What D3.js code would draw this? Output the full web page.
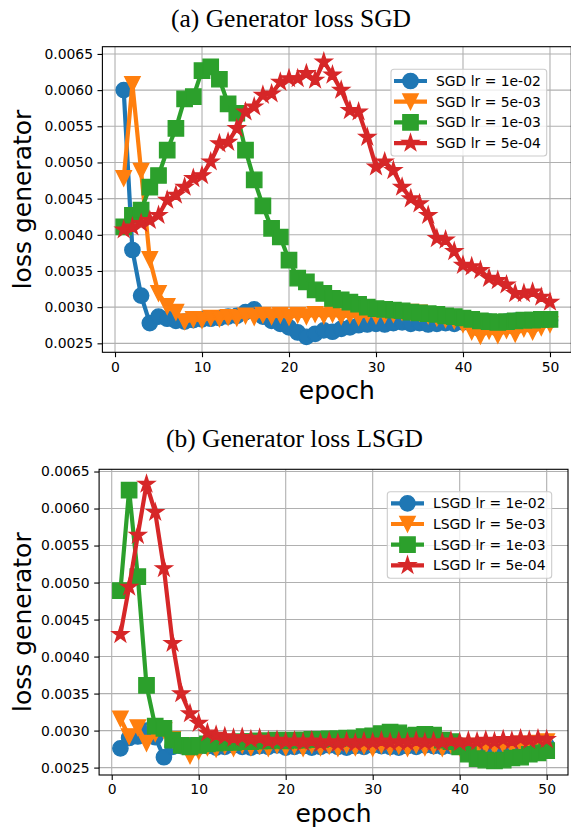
<!DOCTYPE html>
<html>
<head>
<meta charset="utf-8">
<script src="https://cdn.jsdelivr.net/npm/d3@7"></script>
<style>
  html, body { margin: 0; padding: 0; background: #fff; }
  svg { display: block; }
</style>
</head>
<body>
<div id="chart"></div>
<script>
// Data
const epochs = d3.range(1, 51)
const xTicks = [0, 10, 20, 30, 40, 50]
const yTicks = [0.0025, 0.0030, 0.0035, 0.0040, 0.0045, 0.0050, 0.0055, 0.0060, 0.0065]

const sgdLabels = ['SGD lr = 1e-02', 'SGD lr = 5e-03', 'SGD lr = 1e-03', 'SGD lr = 5e-04']
const lsgdLabels = ['LSGD lr = 1e-02', 'LSGD lr = 5e-03', 'LSGD lr = 1e-03', 'LSGD lr = 5e-04']

const sgd1e2 = [0.00600, 0.00379, 0.00316, 0.00278, 0.00287, 0.00284, 0.00281, 0.00280, 0.00282, 0.00283,
  0.00284, 0.00285, 0.00287, 0.00288, 0.00293, 0.00297, 0.00287, 0.00281, 0.00277, 0.00272,
  0.00265, 0.00259, 0.00263, 0.00268, 0.00266, 0.00270, 0.00272, 0.00275, 0.00276, 0.00277,
  0.00276, 0.00278, 0.00279, 0.00277, 0.00278, 0.00276, 0.00277, 0.00278, 0.00277, 0.00279,
  0.00278, 0.00279, 0.00280, 0.00279, 0.00280, 0.00281, 0.00280, 0.00281, 0.00282, 0.00282]
const sgd5e3 = [0.00478, 0.00608, 0.00488, 0.00366, 0.00319, 0.00301, 0.00293, 0.00280, 0.00283, 0.00282,
  0.00285, 0.00284, 0.00286, 0.00285, 0.00288, 0.00286, 0.00289, 0.00287, 0.00289, 0.00286,
  0.00289, 0.00287, 0.00290, 0.00288, 0.00290, 0.00287, 0.00289, 0.00286, 0.00290, 0.00288,
  0.00289, 0.00290, 0.00293, 0.00293, 0.00292, 0.00288, 0.00285, 0.00283, 0.00281, 0.00276,
  0.00266, 0.00260, 0.00267, 0.00261, 0.00268, 0.00263, 0.00270, 0.00266, 0.00272, 0.00276]
const sgd1e3 = [0.00411, 0.00427, 0.00434, 0.00466, 0.00482, 0.00517, 0.00547, 0.00588, 0.00591, 0.00627,
  0.00632, 0.00615, 0.00581, 0.00568, 0.00517, 0.00476, 0.00440, 0.00409, 0.00397, 0.00365,
  0.00340, 0.00335, 0.00324, 0.00319, 0.00312, 0.00310, 0.00307, 0.00304, 0.00300, 0.00298,
  0.00297, 0.00296, 0.00295, 0.00293, 0.00292, 0.00291, 0.00290, 0.00288, 0.00287, 0.00285,
  0.00283, 0.00281, 0.00280, 0.00279, 0.00280, 0.00281, 0.00282, 0.00282, 0.00283, 0.00283]
const sgd5e4 = [0.00407, 0.00411, 0.00416, 0.00420, 0.00427, 0.00448, 0.00455, 0.00466, 0.00478, 0.00482,
  0.00501, 0.00526, 0.00528, 0.00547, 0.00570, 0.00577, 0.00593, 0.00595, 0.00611, 0.00616,
  0.00616, 0.00623, 0.00614, 0.00639, 0.00621, 0.00600, 0.00572, 0.00570, 0.00535, 0.00494,
  0.00501, 0.00489, 0.00466, 0.00450, 0.00443, 0.00427, 0.00395, 0.00393, 0.00377, 0.00358,
  0.00356, 0.00351, 0.00340, 0.00337, 0.00331, 0.00319, 0.00319, 0.00321, 0.00314, 0.00307]

const lsgd1e2 = [0.00276, 0.00290, 0.00292, 0.00300, 0.00291, 0.00264, 0.00278, 0.00279, 0.00280, 0.00278,
  0.00279, 0.00277, 0.00278, 0.00280, 0.00278, 0.00277, 0.00279, 0.00278, 0.00280, 0.00277,
  0.00278, 0.00279, 0.00277, 0.00278, 0.00280, 0.00278, 0.00277, 0.00279, 0.00278, 0.00280,
  0.00279, 0.00278, 0.00277, 0.00279, 0.00278, 0.00280, 0.00279, 0.00278, 0.00279, 0.00280,
  0.00279, 0.00278, 0.00280, 0.00279, 0.00278, 0.00280, 0.00279, 0.00280, 0.00279, 0.00280]
const lsgd5e3 = [0.00316, 0.00292, 0.00304, 0.00283, 0.00296, 0.00300, 0.00288, 0.00280, 0.00266, 0.00272,
  0.00277, 0.00275, 0.00279, 0.00276, 0.00280, 0.00277, 0.00279, 0.00276, 0.00280, 0.00277,
  0.00279, 0.00276, 0.00280, 0.00277, 0.00279, 0.00276, 0.00280, 0.00277, 0.00279, 0.00276,
  0.00280, 0.00277, 0.00279, 0.00276, 0.00280, 0.00277, 0.00279, 0.00276, 0.00280, 0.00277,
  0.00279, 0.00277, 0.00280, 0.00278, 0.00281, 0.00279, 0.00282, 0.00280, 0.00283, 0.00285]
const lsgd1e3 = [0.00489, 0.00625, 0.00508, 0.00361, 0.00306, 0.00303, 0.00287, 0.00280, 0.00278, 0.00280,
  0.00282, 0.00283, 0.00284, 0.00284, 0.00285, 0.00285, 0.00286, 0.00286, 0.00287, 0.00286,
  0.00287, 0.00287, 0.00288, 0.00288, 0.00289, 0.00289, 0.00290, 0.00290, 0.00292, 0.00293,
  0.00296, 0.00298, 0.00297, 0.00293, 0.00294, 0.00295, 0.00294, 0.00287, 0.00285, 0.00278,
  0.00268, 0.00262, 0.00260, 0.00259, 0.00260, 0.00263, 0.00264, 0.00268, 0.00270, 0.00273]
const lsgd5e4 = [0.00430, 0.00494, 0.00564, 0.00633, 0.00595, 0.00519, 0.00418, 0.00350, 0.00323, 0.00310,
  0.00297, 0.00294, 0.00292, 0.00290, 0.00291, 0.00288, 0.00290, 0.00286, 0.00287, 0.00285,
  0.00286, 0.00284, 0.00286, 0.00283, 0.00285, 0.00283, 0.00285, 0.00283, 0.00285, 0.00284,
  0.00286, 0.00284, 0.00285, 0.00284, 0.00286, 0.00284, 0.00285, 0.00284, 0.00286, 0.00284,
  0.00286, 0.00285, 0.00287, 0.00285, 0.00288, 0.00286, 0.00289, 0.00287, 0.00289, 0.00288]

// Styles
const colors = ['#1f77b4', '#ff7f0e', '#2ca02c', '#d62728']
const markers = ['circle', 'triangle', 'square', 'star']
const MS = 15.3
const LW = 4.2
const TICK_FONT = '13.9px'

// Marker shapes (matplotlib-like sizes)
function markerPath (type, s) {
  const h = s / 2
  const p = d3.path()
  if (type === 'circle') {
    p.arc(0, 0, h, 0, 2 * Math.PI)
  } else if (type === 'triangle') {
    p.moveTo(0, h); p.lineTo(-h, -h); p.lineTo(h, -h); p.closePath()
  } else if (type === 'square') {
    p.rect(-h, -h, s, s)
  } else {
    const R = h * 1.12
    const r = R * 0.381966
    for (let i = 0; i < 10; i++) {
      const a = -Math.PI / 2 + i * Math.PI / 5
      const rad = i % 2 === 0 ? R : r
      const x = rad * Math.cos(a)
      const y = rad * Math.sin(a)
      if (i === 0) p.moveTo(x, y); else p.lineTo(x, y)
    }
    p.closePath()
  }
  return p.toString()
}

const svg = d3.select('#chart')
  .append('svg')
  .attr('width', 571)
  .attr('height', 829)

function drawPanel (cfg) {
  const { series, labels, title, left, right, top, bottom, yMin, yMax, legend } = cfg
  const x = d3.scaleLinear().domain([-1.45, 52.45]).range([left, right])
  const y = d3.scaleLinear().domain([yMin, yMax]).range([bottom, top])
  const g = svg.append('g')

  // title
  g.append('text')
    .attr('x', cfg.titleX)
    .attr('y', cfg.titleY)
    .attr('text-anchor', 'middle')
    .style('font-family', '"Liberation Serif", "Times New Roman", serif')
    .style('font-size', '25.5px')
    .text(title)

  // grid
  g.append('g').selectAll('line.gx')
    .data(xTicks)
    .join('line')
    .attr('x1', d => x(d)).attr('x2', d => x(d))
    .attr('y1', top).attr('y2', bottom)
    .attr('stroke', '#b0b0b0').attr('stroke-width', 1.1)
  g.append('g').selectAll('line.gy')
    .data(yTicks)
    .join('line')
    .attr('x1', left).attr('x2', right)
    .attr('y1', d => y(d)).attr('y2', d => y(d))
    .attr('stroke', '#b0b0b0').attr('stroke-width', 1.1)

  // series
  const line = d3.line().x((d, i) => x(epochs[i])).y(d => y(d))
  series.forEach((vals, k) => {
    const sg = g.append('g')
    sg.append('path')
      .attr('d', line(vals))
      .attr('fill', 'none')
      .attr('stroke', colors[k])
      .attr('stroke-width', LW)
      .attr('stroke-linejoin', 'round')
    sg.selectAll('path.m')
      .data(vals)
      .join('path')
      .attr('class', 'm')
      .attr('d', markerPath(markers[k], MS))
      .attr('transform', (d, i) => `translate(${x(epochs[i])},${y(d)})`)
      .attr('fill', colors[k])
      .attr('stroke', colors[k])
      .attr('stroke-width', 1.4)
      .attr('stroke-linejoin', 'miter')
  })

  // axes
  const xAxis = d3.axisBottom(x).tickValues(xTicks).tickSize(4.9).tickPadding(4.5).tickFormat(d3.format('d'))
  const yAxis = d3.axisLeft(y).tickValues(yTicks).tickSize(4.9).tickPadding(4.5).tickFormat(d3.format('.4f'))
  const gx = g.append('g').attr('transform', `translate(0,${bottom})`).call(xAxis)
  const gy = g.append('g').attr('transform', `translate(${left},0)`).call(yAxis)
  ;[gx, gy].forEach(a => {
    a.select('.domain').remove()
    a.selectAll('line').attr('stroke', '#000').attr('stroke-width', 1.1)
    a.selectAll('text')
      .attr('fill', '#000')
      .style('font-family', '"DejaVu Sans", sans-serif')
      .style('font-size', TICK_FONT)
  })

  // frame
  g.append('rect')
    .attr('x', left).attr('y', top)
    .attr('width', right - left).attr('height', bottom - top)
    .attr('fill', 'none').attr('stroke', '#000').attr('stroke-width', 1.1)

  // axis labels
  g.append('text')
    .attr('x', (left + right) / 2)
    .attr('y', bottom + 47)
    .attr('text-anchor', 'middle')
    .style('font-family', '"DejaVu Sans", sans-serif')
    .style('font-size', '25px')
    .text('epoch')
  g.append('text')
    .attr('transform', `translate(31,${(top + bottom) / 2}) rotate(-90)`)
    .attr('text-anchor', 'middle')
    .style('font-family', '"DejaVu Sans", sans-serif')
    .style('font-size', '25px')
    .text('loss generator')

  // legend
  const lg = g.append('g')
  lg.append('rect')
    .attr('x', legend.x).attr('y', legend.y)
    .attr('width', legend.w).attr('height', legend.h)
    .attr('rx', 3)
    .attr('fill', 'rgba(255,255,255,0.8)')
    .attr('stroke', '#cccccc').attr('stroke-width', 1.1)
  labels.forEach((lab, k) => {
    const cy = legend.row0 + k * 20.7
    lg.append('line')
      .attr('x1', legend.h0).attr('x2', legend.h0 + 33)
      .attr('y1', cy).attr('y2', cy)
      .attr('stroke', colors[k]).attr('stroke-width', LW)
    lg.append('path')
      .attr('d', markerPath(markers[k], MS))
      .attr('transform', `translate(${legend.h0 + 16.5},${cy})`)
      .attr('fill', colors[k]).attr('stroke', colors[k]).attr('stroke-width', 1.4)
    lg.append('text')
      .attr('x', legend.h0 + 42)
      .attr('y', cy)
      .attr('dy', '0.36em')
      .style('font-family', '"DejaVu Sans", sans-serif')
      .style('font-size', TICK_FONT)
      .text(lab)
  })
}

drawPanel({
  id: 'a',
  series: [sgd1e2, sgd5e3, sgd1e3, sgd5e4],
  labels: sgdLabels,
  title: '(a) Generator loss SGD',
  titleX: 291, titleY: 27,
  left: 102.4, right: 571.3, top: 46.7, bottom: 352.3,
  yMin: 0.002376, yMax: 0.0066,
  legend: { x: 391, y: 69.3, w: 155.7, h: 86.7, row0: 81, h0: 394 }
})

drawPanel({
  id: 'b',
  series: [lsgd1e2, lsgd5e3, lsgd1e3, lsgd5e4],
  labels: lsgdLabels,
  title: '(b) Generator loss LSGD',
  titleX: 294.5, titleY: 446.7,
  left: 99.1, right: 568, top: 469.3, bottom: 775,
  yMin: 0.0024, yMax: 0.00653,
  legend: { x: 387.3, y: 491.7, w: 164.4, h: 86.6, row0: 503.3, h0: 391 }
})
</script>
</body>
</html>
